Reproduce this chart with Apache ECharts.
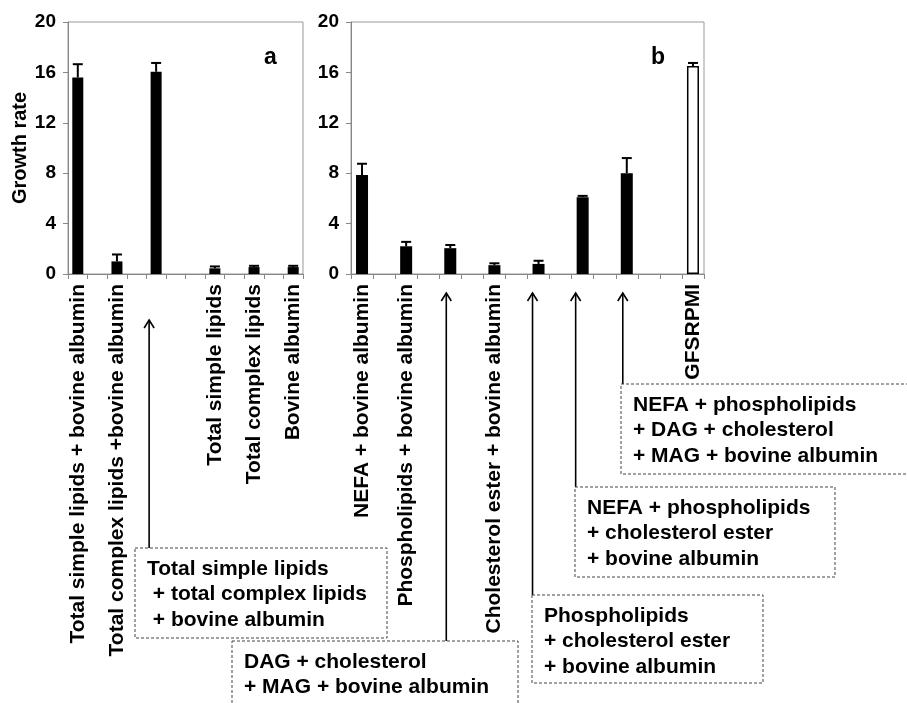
<!DOCTYPE html>
<html><head><meta charset="utf-8">
<script src="https://cdn.jsdelivr.net/npm/echarts@6/dist/echarts.min.js"></script>
<style>html,body{margin:0;padding:0;background:#fff}#c{width:907px;height:703px}</style>
</head><body><div id="c"></div>
<script>
// ---- data ----
const catsA = ['Total simple lipids + bovine albumin', '', 'Total complex lipids +bovine albumin', '', '', '', '', 'Total simple lipids', '', 'Total complex lipids', '', 'Bovine albumin'];
const valuesA = [15.6, null, 1.0, null, 16.05, null, null, 0.45, null, 0.55, null, 0.55];
const errA    = [1.05, null, 0.55, null, 0.7, null, null, 0.15, null, 0.1, null, 0.1];

const catsB = ['NEFA + bovine albumin', '', 'Phospholipids + bovine albumin', '', '', '', 'Cholesterol ester + bovine albumin', '', '', '', '', '', '', '', '', 'GFSRPMI'];
const valuesB = [7.85, null, 2.2, null, 2.05, null, 0.7, null, 0.8, null, 6.1, null, 8.0, null, null, 16.5];
const errB    = [0.9, null, 0.35, null, 0.25, null, 0.15, null, 0.25, null, 0.1, null, 1.2, null, null, 0.25];
const openBarB = 15; // GFSRPMI drawn as an open bar

const yTicks = [0, 4, 8, 12, 16, 20];

const notesA = [{idx: 4, text: 'Total simple lipids\n + total complex lipids\n + bovine albumin'}];
const notesB = [
  {idx: 4,  text: 'DAG + cholesterol\n+ MAG + bovine albumin'},
  {idx: 8,  text: 'Phospholipids\n+ cholesterol ester\n+ bovine albumin'},
  {idx: 10, text: 'NEFA + phospholipids\n+ cholesterol ester\n+ bovine albumin'},
  {idx: 12, text: 'NEFA + phospholipids\n+ DAG + cholesterol\n+ MAG + bovine albumin'}
];

// ---- chart ----
const FONT = 'Liberation Sans, Arial, Helvetica, sans-serif';
const chart = echarts.init(document.getElementById('c'));

function errData(vals, errs) {
  const out = [];
  vals.forEach((v, i) => { if (v != null && errs[i] != null) out.push([i, v, errs[i]]); });
  return out;
}
function errRender(params, api) {
  const x = api.value(0), v = api.value(1), e = api.value(2);
  const p0 = api.coord([x, v]), p1 = api.coord([x, v + e]);
  const half = 5;
  return {type: 'group', children: [
    {type: 'line', shape: {x1: p0[0], y1: p0[1], x2: p1[0], y2: p1[1]}, style: {stroke: '#000', lineWidth: 2}},
    {type: 'line', shape: {x1: p1[0] - half, y1: p1[1], x2: p1[0] + half, y2: p1[1]}, style: {stroke: '#000', lineWidth: 2}}
  ]};
}
function xAxisCfg(gi, cats) {
  return {
    type: 'category', gridIndex: gi, data: cats,
    axisLine: {lineStyle: {color: '#888', width: 1}},
    axisTick: {show: true, interval: 0, alignWithLabel: false, length: 5, lineStyle: {color: '#888'}},
    axisLabel: {interval: 0, rotate: 90, margin: 10, color: '#000', fontFamily: FONT, fontWeight: 'bold', fontSize: 21}
  };
}
function yAxisCfg(gi, withName) {
  const c = {
    type: 'value', gridIndex: gi, min: yTicks[0], max: yTicks[yTicks.length - 1], interval: 4,
    splitLine: {show: false},
    axisLine: {show: true, lineStyle: {color: '#888', width: 1}},
    axisTick: {show: true, length: 5, lineStyle: {color: '#888'}},
    axisLabel: {margin: 12, color: '#000', fontFamily: FONT, fontWeight: 'bold', fontSize: 19}
  };
  if (withName) {
    c.name = 'Growth rate'; c.nameLocation = 'middle'; c.nameGap = 38; c.nameRotate = 90;
    c.nameTextStyle = {color: '#000', fontFamily: FONT, fontWeight: 'bold', fontSize: 20};
  }
  return c;
}

const option = {
  animation: false,
  backgroundColor: '#fff',
  title: [
    {text: 'a', left: 259, top: 41, textStyle: {fontFamily: FONT, fontWeight: 'bold', fontSize: 23, color: '#000'}},
    {text: 'b', left: 646, top: 41, textStyle: {fontFamily: FONT, fontWeight: 'bold', fontSize: 23, color: '#000'}}
  ],
  grid: [
    {left: 68, top: 22, width: 235, height: 252, show: true, borderColor: '#999', borderWidth: 1, backgroundColor: 'transparent'},
    {left: 351, top: 22, width: 353, height: 252, show: true, borderColor: '#999', borderWidth: 1, backgroundColor: 'transparent'}
  ],
  xAxis: [xAxisCfg(0, catsA), xAxisCfg(1, catsB)],
  yAxis: [yAxisCfg(0, true), yAxisCfg(1, false)],
  series: [
    {type: 'bar', xAxisIndex: 0, yAxisIndex: 0, data: valuesA, barWidth: 11, itemStyle: {color: '#000'}},
    {type: 'custom', xAxisIndex: 0, yAxisIndex: 0, data: errData(valuesA, errA), renderItem: errRender, encode: {x: 0, y: 1}, z: 5},
    {type: 'bar', xAxisIndex: 1, yAxisIndex: 1, barWidth: 12,
      data: valuesB.map((v, i) => i === openBarB ? {value: v, itemStyle: {color: '#fff', borderColor: '#000', borderWidth: 1.5}} : v),
      itemStyle: {color: '#000'}},
    {type: 'custom', xAxisIndex: 1, yAxisIndex: 1, data: errData(valuesB, errB), renderItem: errRender, encode: {x: 0, y: 1}, z: 5}
  ]
};
chart.setOption(option);

// ---- annotations: arrows from category slots down to dashed note boxes ----
const boxLayoutA = [{dx: -7, top: 320, bx: 135, by: 548, bw: 252, bh: 90}];
const boxLayoutB = [
  {dx: -4, top: 293, bx: 232, by: 641, bw: 286, bh: 80},
  {dx: -6, top: 293, bx: 532, by: 595, bw: 231, bh: 88},
  {dx: -7, top: 293, bx: 575, by: 487, bw: 260, bh: 90},
  {dx: -4, top: 293, bx: 621, by: 384, bw: 300, bh: 90}
];
const graphics = [];
function addNote(axisIdx, note, lay) {
  const x = chart.convertToPixel({xAxisIndex: axisIdx}, note.idx) + lay.dx;
  graphics.push({type: 'line', shape: {x1: x, y1: lay.top, x2: x, y2: lay.by}, style: {stroke: '#000', lineWidth: 1.6}, z: 10});
  graphics.push({type: 'polyline', shape: {points: [[x - 5, lay.top + 8], [x, lay.top], [x + 5, lay.top + 8]]}, style: {stroke: '#000', lineWidth: 1.6, fill: null}, z: 10});
  graphics.push({type: 'rect', shape: {x: lay.bx, y: lay.by, width: lay.bw, height: lay.bh}, style: {fill: '#fff', stroke: '#444', lineWidth: 1, lineDash: [3, 2]}, z: 11});
  graphics.push({type: 'text', x: lay.bx + 12, y: lay.by + 8, style: {text: note.text, font: 'bold 21px ' + FONT, fill: '#000', lineHeight: 25.5, verticalAlign: 'top'}, z: 12});
}
notesA.forEach((n, i) => addNote(0, n, boxLayoutA[i]));
notesB.forEach((n, i) => addNote(1, n, boxLayoutB[i]));
chart.setOption({graphic: graphics});
</script>
</body></html>
